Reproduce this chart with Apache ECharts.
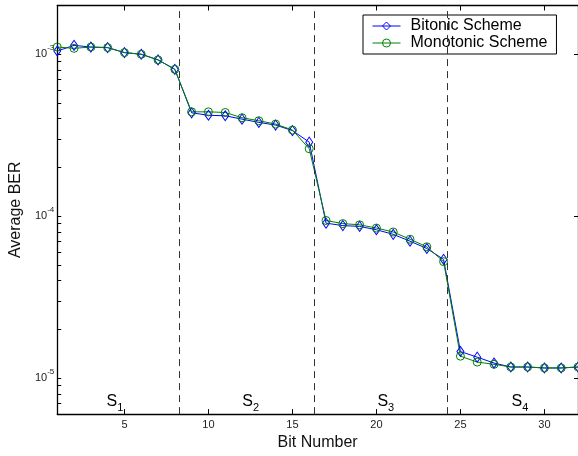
<!DOCTYPE html>
<html><head><meta charset="utf-8">
<script src="https://cdn.jsdelivr.net/npm/echarts@6/dist/echarts.min.js"></script>
<style>html,body{margin:0;padding:0;background:#fff}#c{width:578px;height:456px}</style>
</head><body><div id="c"></div>
<script>
const bitNumbers = [1,2,3,4,5,6,7,8,9,10,11,12,13,14,15,16,17,18,19,20,21,22,23,24,25,26,27,28,29,30,31,32];
const bitonic = [1.047e-3,1.135e-3,1.108e-3,1.099e-3,1.024e-3,1.0e-3,0.923e-3,0.807e-3,
  4.35e-4,4.20e-4,4.17e-4,3.975e-4,3.795e-4,3.654e-4,3.38e-4,2.866e-4,
  9.06e-5,8.75e-5,8.65e-5,8.25e-5,7.73e-5,7.01e-5,6.32e-5,5.41e-5,
  1.461e-5,1.348e-5,1.240e-5,1.172e-5,1.172e-5,1.156e-5,1.156e-5,1.172e-5];
const monotonic = [1.108e-3,1.088e-3,1.108e-3,1.099e-3,1.024e-3,1.0e-3,0.923e-3,0.807e-3,
  4.41e-4,4.41e-4,4.37e-4,4.055e-4,3.886e-4,3.706e-4,3.405e-4,2.61e-4,
  9.41e-5,9.0e-5,8.85e-5,8.45e-5,7.99e-5,7.21e-5,6.47e-5,5.24e-5,
  1.367e-5,1.257e-5,1.218e-5,1.172e-5,1.172e-5,1.156e-5,1.156e-5,1.172e-5];
const xTicks = [5,10,15,20,25,30];
const yMajorTicks = [1e-5,1e-4,1e-3];
const yAllTicks = [6e-6,7e-6,8e-6,9e-6,1e-5,2e-5,3e-5,4e-5,5e-5,6e-5,7e-5,8e-5,9e-5,
  1e-4,2e-4,3e-4,4e-4,5e-4,6e-4,7e-4,8e-4,9e-4,1e-3,2e-3];
const sectionBounds = [8.28, 16.3, 24.2];
const sectionNames = ['1','2','3','4'];
const sectionLabelX = [4.43, 12.51, 20.56, 28.54];
const sectionLabelY = 7.2e-6;
const seriesNames = ['Bitonic Scheme','Monotonic Scheme'];
const seriesColors = ['#0000ff','#008000'];

const FONT = '"Liberation Sans", Arial, Helvetica, sans-serif';
const chart = echarts.init(document.getElementById('c'), null, {renderer:'canvas'});
const axisLineStyle = {color:'#000', width:1.3};
chart.setOption({
  animation:false,
  backgroundColor:'#fff',
  grid:{left:55.5, right:-2.5, top:5.5, bottom:36, containLabel:false},
  legend:{
    data:seriesNames.map((n,i)=>({name:n,
      itemStyle:{color:'rgba(255,255,255,0)', borderColor:seriesColors[i], borderWidth:1},
      lineStyle:{color:seriesColors[i], width:1}})),
    orient:'vertical', left:363, top:15,
    padding:[3,9,3,9], itemGap:1, itemWidth:28, itemHeight:10,
    borderColor:'#000', borderWidth:1, backgroundColor:'#fff', borderRadius:0,
    textStyle:{fontSize:16, color:'#000', fontFamily:FONT, padding:[0,0,0,5]}
  },
  xAxis:[
    {type:'value', min:1, max:32, position:'bottom',
     axisLine:{show:true, onZero:false, lineStyle:axisLineStyle},
     axisTick:{show:true, inside:true, length:5, customValues:xTicks, lineStyle:{color:'#000'}},
     axisLabel:{show:true, customValues:xTicks, fontSize:11, color:'#222', margin:5, fontFamily:FONT},
     splitLine:{show:false},
     name:'Bit Number', nameLocation:'middle', nameGap:17,
     nameTextStyle:{fontSize:16, color:'#111', fontFamily:FONT}},
    {type:'value', min:1, max:32, position:'top',
     axisLine:{show:true, onZero:false, lineStyle:axisLineStyle},
     axisTick:{show:true, inside:true, length:5, customValues:xTicks, lineStyle:{color:'#000'}},
     axisLabel:{show:false}, splitLine:{show:false}}
  ],
  yAxis:[
    {type:'log', logBase:10, min:6e-6, max:2e-3, position:'left',
     axisLine:{show:true, onZero:false, lineStyle:axisLineStyle},
     axisTick:{show:true, inside:true, length:4, customValues:yAllTicks, lineStyle:{color:'#000'}},
     axisLabel:{show:true, customValues:yMajorTicks, margin:3, fontFamily:FONT,
       formatter:function(v){ return '{b|10}{s|' + Math.round(Math.log10(v)) + '}'; },
       rich:{b:{fontSize:11, color:'#222', fontFamily:FONT},
             s:{fontSize:8, color:'#222', fontFamily:FONT, padding:[0,0,12,0]}}},
     splitLine:{show:false}, minorTick:{show:false},
     name:'Average BER', nameLocation:'middle', nameGap:27, nameRotate:90,
     nameTextStyle:{fontSize:16, color:'#111', fontFamily:FONT}},
    {type:'log', logBase:10, min:6e-6, max:2e-3, position:'right',
     axisLine:{show:true, onZero:false, lineStyle:axisLineStyle},
     axisTick:{show:true, inside:true, length:4, customValues:yMajorTicks, lineStyle:{color:'#000'}},
     axisLabel:{show:false}, splitLine:{show:false}}
  ],
  series:[
    {name:seriesNames[0], type:'line', xAxisIndex:0, yAxisIndex:0,
     data:bitNumbers.map((x,i)=>[x, bitonic[i]]),
     symbol:'diamond', symbolSize:[7,10], showAllSymbol:true,
     lineStyle:{color:seriesColors[0], width:1},
     itemStyle:{color:'rgba(255,255,255,0)', borderColor:seriesColors[0], borderWidth:1},
     emphasis:{disabled:true},
     markLine:{silent:true, symbol:['none','none'], label:{show:false},
       lineStyle:{type:[7,5], color:'#333', width:1},
       data:sectionBounds.map(v=>({xAxis:v}))}},
    {name:seriesNames[1], type:'line', xAxisIndex:0, yAxisIndex:0,
     data:bitNumbers.map((x,i)=>[x, monotonic[i]]),
     symbol:'circle', symbolSize:8, showAllSymbol:true,
     lineStyle:{color:seriesColors[1], width:1},
     itemStyle:{color:'rgba(255,255,255,0)', borderColor:seriesColors[1], borderWidth:1},
     emphasis:{disabled:true},
     markPoint:{silent:true, symbol:'circle', symbolSize:1,
       itemStyle:{color:'rgba(0,0,0,0)', borderWidth:0},
       label:{show:true, position:'inside',
         formatter:function(p){ return '{m|S}{n|' + p.name + '}'; },
         rich:{m:{fontSize:16, color:'#000', fontFamily:FONT},
               n:{fontSize:11, color:'#000', fontFamily:FONT, padding:[14,0,0,0]}}},
       data:sectionNames.map((n,i)=>({name:n, coord:[sectionLabelX[i], sectionLabelY]}))}}
  ]
});
</script></body></html>
